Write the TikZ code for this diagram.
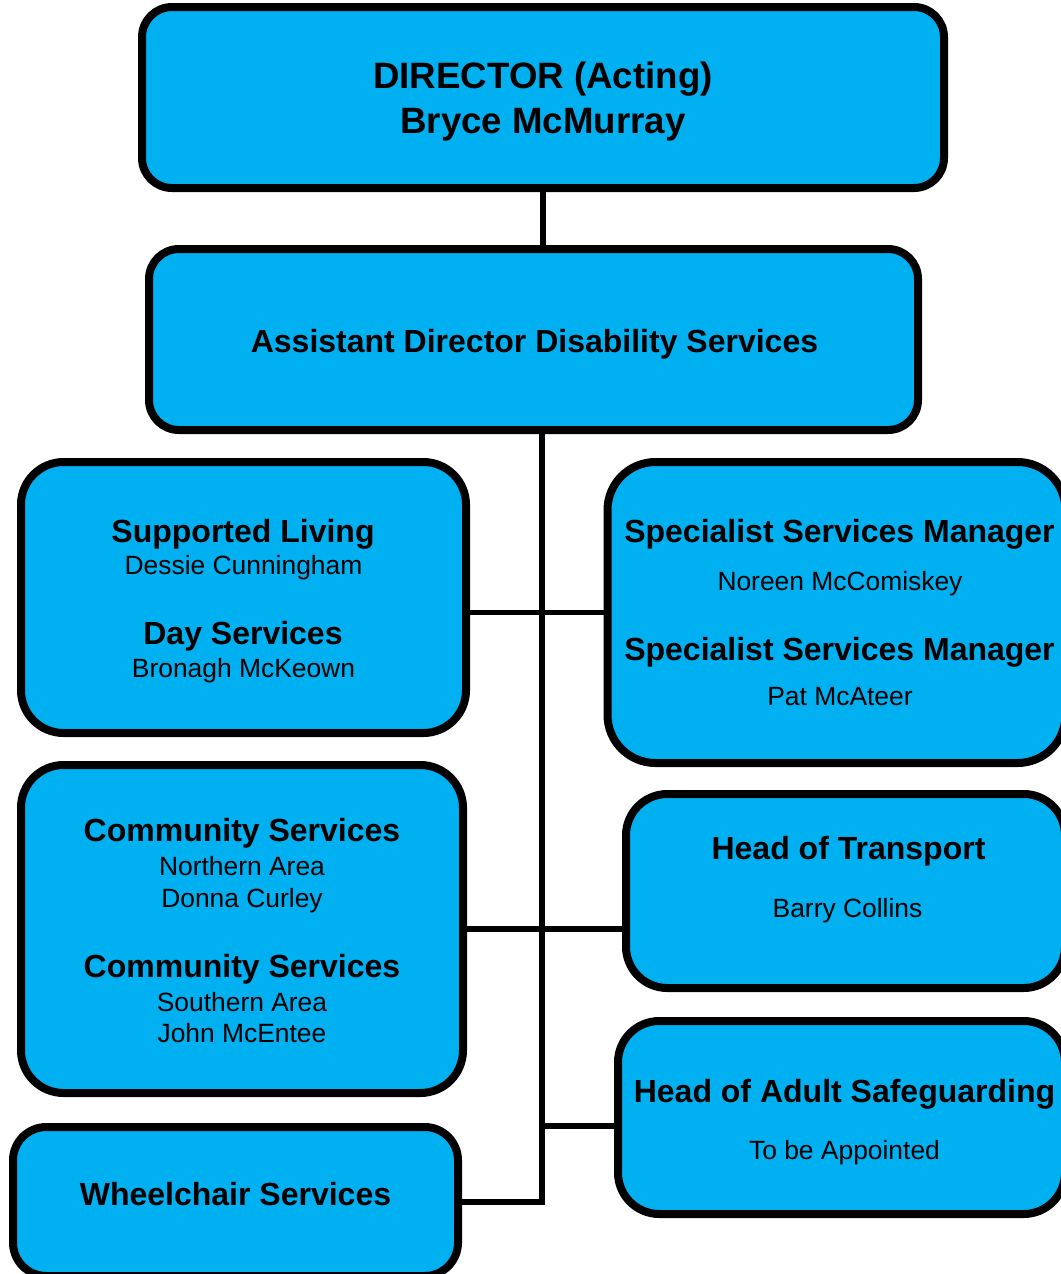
\documentclass[tikz,border=0pt]{standalone}
\usepackage{fontspec}
\setmainfont{Liberation Sans}
\usepackage{xcolor}
\usepackage{tikz}
\usetikzlibrary{positioning}
\definecolor{unitblue}{RGB}{0,176,240}

\begin{document}
\begin{tikzpicture}[x=0.75pt,y=0.75pt,yscale=-1,xscale=1,
  unitbox/.style={draw=black,fill=unitblue,line width=6pt,rectangle,inner sep=0pt,outer sep=0pt},
  topline/.style={anchor=base,inner sep=0.75pt,font=\fontsize{27.5}{32}\bfseries\selectfont},
  headline/.style={anchor=base,inner sep=0.75pt,font=\fontsize{24}{28}\bfseries\selectfont},
  nameline/.style={anchor=base,inner sep=0.75pt,font=\fontsize{19.8}{23}\selectfont},
  link/.style={line width=4pt}]
\path[use as bounding box] (0,0) rectangle (1060,1274);

%Rounded Rect
\node [unitbox,rounded corners=22.5pt,minimum width=601.5pt,minimum height=135.75pt] (dir) at (543,97.5) {};
%Rounded Rect
\node [unitbox,rounded corners=22.5pt,minimum width=576.75pt,minimum height=135.75pt] (asst) at (533.5,339.5) {};
%Rounded Rect
\node [unitbox,rounded corners=32pt,minimum width=333.75pt,minimum height=203.25pt] (supp) at (243.5,597.5) {};
%Rounded Rect
\node [unitbox,rounded corners=36pt,minimum width=343.5pt,minimum height=225.75pt] (spec) at (836.5,612.5) {};
%Rounded Rect
\node [unitbox,rounded corners=32pt,minimum width=331.5pt,minimum height=246pt] (comm) at (242,929) {};
%Rounded Rect
\node [unitbox,rounded corners=31pt,minimum width=329.25pt,minimum height=145.5pt] (trans) at (845.5,891) {};
%Rounded Rect
\node [unitbox,rounded corners=31pt,minimum width=335.25pt,minimum height=144.75pt] (safe) at (841.5,1117.5) {};
%Rounded Rect
\node [unitbox,rounded corners=25pt,minimum width=333.75pt,minimum height=111.75pt] (wheel) at (235.5,1201.5) {};

%Straight Lines
\coordinate (trunkend) at (542,1202);
\coordinate (safejoin) at (542,1126);
\draw [link] (dir.south) -- (dir.south |- asst.north);
\draw [link] (trunkend |- asst.south) -- (trunkend) -- (wheel.east |- trunkend);
\draw [link] (spec.west -| supp.east) -- (spec.west);
\draw [link] (comm.east) -- (comm.east -| trans.west);
\draw [link] (safejoin) -- (safejoin -| safe.west);

% Text Node
\node [topline] (dirtitle) at (543,88) {DIRECTOR (Acting)};
\node [topline] (dirname) at (543,133) {Bryce McMurray};
% Text Node
\node [headline] (assttitle) at (534.5,352) {Assistant Director Disability Services};
% Text Node
\node [headline] (supptitle) at (243,542) {Supported Living};
\node [nameline] (suppname) at (243.5,574) {Dessie Cunningham};
\node [headline] (daytitle) at (243,644) {Day Services};
\node [nameline] (dayname) at (243.5,677) {Bronagh McKeown};
% Text Node
\node [headline] (spectitle) at (839.5,542) {Specialist Services Manager};
\node [nameline] (specname) at (840,590) {Noreen McComiskey};
\node [headline] (spectitleb) at (839.5,660) {Specialist Services Manager};
\node [nameline] (specnameb) at (840,705) {Pat McAteer};
% Text Node
\node [headline] (commtitle) at (242,841) {Community Services};
\node [nameline] (commarea) at (242,875) {Northern Area};
\node [nameline] (commname) at (242,907) {Donna Curley};
\node [headline] (commtitleb) at (242,977) {Community Services};
\node [nameline] (commareab) at (242,1011) {Southern Area};
\node [nameline] (commnameb) at (242,1042) {John McEntee};
% Text Node
\node [headline] (transtitle) at (848.5,859) {Head of Transport};
\node [nameline] (transname) at (847.5,917) {Barry Collins};
% Text Node
\node [headline] (safetitle) at (844.5,1102) {Head of Adult Safeguarding};
\node [nameline] (safename) at (844.5,1159) {To be Appointed};
% Text Node
\node [headline] (wheeltitle) at (235.5,1205) {Wheelchair Services};

\end{tikzpicture}
\end{document}
